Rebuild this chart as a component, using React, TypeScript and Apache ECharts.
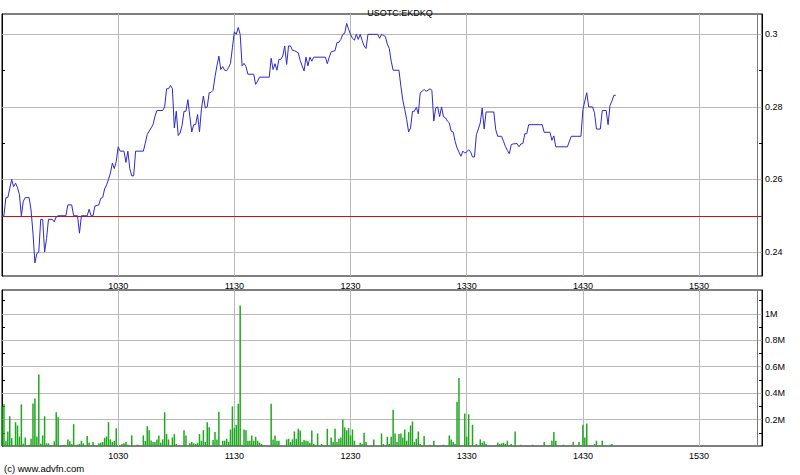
import React, { useEffect, useRef } from "react";
import * as echarts from "echarts";

// Price (minutes since midnight -> price)
const priceTimes: number[] = [
  570, 571, 572, 573, 575, 576, 577, 578, 579, 580, 581, 582, 584, 585, 586, 587, 588, 589, 590, 591,
  592, 593, 594, 596, 597, 598, 599, 603, 604, 606, 607, 609, 610, 611, 614, 615, 616, 617, 618, 620,
  621, 622, 623, 624, 625, 626, 627, 628, 629, 630, 631, 633, 634, 635, 636, 637, 638, 639, 643, 644,
  645, 647, 648, 649, 650, 653, 654, 655, 656, 657, 658, 659, 660, 661, 662, 663, 664, 665, 666, 667,
  668, 669, 670, 671, 672, 673, 674, 675, 676, 677, 678, 679, 680, 681, 682, 683, 684, 685, 686, 687,
  688, 689, 690, 691, 692, 693, 694, 695, 696, 697, 700, 701, 702, 703, 708, 709, 710, 711, 712, 713,
  714, 715, 716, 717, 718, 719, 720, 721, 723, 724, 725, 726, 727, 728, 729, 730, 731, 737, 738, 739,
  740, 742, 743, 744, 745, 746, 747, 748, 749, 750, 751, 752, 753, 754, 755, 756, 757, 758, 759, 764,
  765, 766, 767, 768, 769, 770, 771, 772, 775, 776, 777, 778, 779, 780, 781, 782, 783, 784, 785, 786,
  787, 788, 789, 790, 791, 792, 793, 794, 795, 796, 797, 798, 799, 800, 801, 802, 803, 804, 805, 807,
  808, 809, 810, 811, 812, 813, 814, 815, 816, 817, 818, 819, 820, 824, 825, 826, 828, 829, 830, 831,
  832, 833, 834, 836, 837, 838, 839, 840, 841, 842, 849, 850, 853, 854, 855, 856, 862, 864, 869, 870,
  872, 873, 875, 876, 877, 879, 880, 882, 883, 884, 885, 886, 887,
];
const prices: number[] = [
  0.25, 0.25, 0.255, 0.255, 0.26, 0.258, 0.259, 0.2578, 0.2558, 0.25, 0.254, 0.255, 0.255, 0.2516, 0.2452, 0.237, 0.2396, 0.24, 0.249, 0.249,
  0.24, 0.2437, 0.249, 0.249, 0.2483, 0.2497, 0.25, 0.25, 0.253, 0.253, 0.25, 0.25, 0.2452, 0.25, 0.25, 0.2518, 0.25, 0.25, 0.2527, 0.253,
  0.2548, 0.255, 0.2574, 0.2585, 0.26, 0.2618, 0.2645, 0.263, 0.265, 0.269, 0.2678, 0.2678, 0.2647, 0.2678, 0.263, 0.261, 0.261, 0.2678, 0.2678, 0.27,
  0.2724, 0.2742, 0.2751, 0.2774, 0.279, 0.279, 0.28, 0.285, 0.285, 0.2859, 0.285, 0.2742, 0.2788, 0.2721, 0.2728, 0.2749, 0.2788, 0.2788, 0.282, 0.2774,
  0.2731, 0.2751, 0.2751, 0.2779, 0.2731, 0.2795, 0.283, 0.2797, 0.28, 0.2839, 0.284, 0.2846, 0.2883, 0.2913, 0.294, 0.2903, 0.2911, 0.2901, 0.29, 0.2908,
  0.292, 0.2963, 0.3007, 0.3, 0.3019, 0.3, 0.2913, 0.292, 0.2911, 0.289, 0.289, 0.2862, 0.2871, 0.2882, 0.2882, 0.2934, 0.2903, 0.2919, 0.2901, 0.2931,
  0.2931, 0.294, 0.2968, 0.2917, 0.2968, 0.2968, 0.2956, 0.2955, 0.2949, 0.2928, 0.2913, 0.2899, 0.2937, 0.2913, 0.2937, 0.2926, 0.2937, 0.2937, 0.2919, 0.2937,
  0.2952, 0.2955, 0.2977, 0.2978, 0.2986, 0.3, 0.3003, 0.303, 0.3014, 0.3, 0.2989, 0.2984, 0.3, 0.2986, 0.3, 0.2983, 0.2968, 0.2961, 0.3, 0.3,
  0.2989, 0.3, 0.2997, 0.2994, 0.2973, 0.2961, 0.2926, 0.2901, 0.2901, 0.2857, 0.2818, 0.2793, 0.2765, 0.2731, 0.2742, 0.2788, 0.2788, 0.2799, 0.2781, 0.2839,
  0.2843, 0.2848, 0.2843, 0.2846, 0.285, 0.2846, 0.2761, 0.2797, 0.28, 0.2773, 0.28, 0.2773, 0.277, 0.2761, 0.2756, 0.2733, 0.2731, 0.2705, 0.2687, 0.2664,
  0.2678, 0.2673, 0.2676, 0.2682, 0.2676, 0.2662, 0.2662, 0.2724, 0.2739, 0.2756, 0.2797, 0.2739, 0.2786, 0.2786, 0.2737, 0.2719, 0.2719, 0.2705, 0.2691, 0.268,
  0.2671, 0.2696, 0.2698, 0.2699, 0.269, 0.2698, 0.2699, 0.2726, 0.2726, 0.2751, 0.2751, 0.273, 0.273, 0.2708, 0.272, 0.269, 0.269, 0.2719, 0.2719, 0.2793,
  0.2839, 0.28, 0.28, 0.2784, 0.2739, 0.2739, 0.279, 0.279, 0.2751, 0.2804, 0.2816, 0.2832, 0.2832,
];

// Volume (minutes since midnight -> shares)
const volTimes: number[] = [
  570, 571, 572, 573, 574, 575, 577, 578, 579, 580, 581, 582, 584, 585, 586, 587, 588, 589, 590, 591,
  592, 593, 594, 597, 598, 599, 602, 604, 605, 606, 607, 609, 610, 611, 612, 614, 615, 617, 620, 621,
  622, 623, 624, 625, 626, 627, 628, 629, 632, 633, 634, 635, 637, 640, 643, 644, 645, 646, 647, 648,
  649, 650, 651, 652, 653, 654, 655, 656, 658, 659, 660, 664, 665, 667, 668, 669, 670, 671, 672, 673,
  674, 675, 676, 677, 679, 680, 681, 682, 684, 685, 686, 687, 688, 689, 690, 691, 692, 693, 694, 695,
  696, 697, 698, 699, 700, 701, 702, 703, 704, 709, 710, 711, 712, 713, 717, 718, 719, 720, 721, 722,
  723, 724, 725, 726, 727, 728, 729, 730, 731, 733, 735, 738, 740, 741, 742, 743, 744, 745, 746, 747,
  748, 749, 750, 751, 752, 755, 756, 757, 758, 762, 766, 767, 769, 770, 771, 772, 773, 774, 775, 776,
  777, 778, 779, 780, 781, 782, 783, 784, 785, 786, 788, 791, 793, 798, 801, 802, 803, 804, 805, 806,
  809, 810, 811, 813, 815, 817, 818, 819, 820, 826, 827, 828, 829, 830, 831, 833, 835, 838, 844, 850,
  854, 855, 856, 860, 865, 868, 870, 871, 872, 876, 877, 880, 884, 885,
];
const volumes: number[] = [
  300000, 315000, 35000, 110000, 225000, 60000, 180000, 155000, 72000, 315000, 18000, 65000, 10000, 55000, 322000, 360000, 72000, 540000, 18000, 80000,
  225000, 20000, 20000, 35000, 255000, 218000, 10000, 50000, 35000, 15000, 165000, 10000, 15000, 40000, 20000, 75000, 25000, 30000, 20000, 25000,
  30000, 62000, 72000, 180000, 50000, 30000, 40000, 135000, 15000, 20000, 30000, 10000, 80000, 10000, 80000, 38000, 150000, 120000, 42000, 30000,
  30000, 50000, 80000, 25000, 50000, 255000, 90000, 50000, 65000, 90000, 15000, 120000, 80000, 20000, 30000, 20000, 15000, 25000, 90000, 40000,
  120000, 30000, 180000, 142000, 45000, 105000, 50000, 260000, 40000, 40000, 55000, 30000, 125000, 300000, 135000, 160000, 320000, 1062000, 10000, 125000,
  120000, 40000, 40000, 80000, 40000, 70000, 40000, 25000, 15000, 320000, 50000, 80000, 40000, 40000, 50000, 55000, 30000, 50000, 110000, 55000,
  130000, 118000, 30000, 45000, 40000, 35000, 25000, 118000, 15000, 95000, 15000, 130000, 65000, 30000, 130000, 30000, 55000, 65000, 200000, 140000,
  118000, 135000, 80000, 125000, 40000, 25000, 15000, 100000, 30000, 50000, 95000, 15000, 70000, 15000, 70000, 275000, 95000, 30000, 90000, 95000,
  65000, 125000, 40000, 105000, 155000, 185000, 30000, 55000, 110000, 15000, 75000, 10000, 40000, 10000, 80000, 50000, 30000, 15000, 335000, 515000,
  245000, 70000, 240000, 160000, 15000, 50000, 25000, 35000, 15000, 25000, 15000, 20000, 25000, 15000, 40000, 15000, 110000, 10000, 10000, 30000,
  40000, 105000, 40000, 10000, 30000, 30000, 160000, 65000, 170000, 15000, 40000, 40000, 10000, 15000,
];

const previousClose = 0.25;
const timeLabelValues: number[] = [630, 690, 750, 810, 870, 930];
const marketClose = 960;
const priceTickValues: number[] = [0.24, 0.25, 0.26, 0.27, 0.28, 0.29, 0.3];
const priceLabelValues: number[] = [0.24, 0.26, 0.28, 0.3];
const volTickValues: number[] = [100000, 200000, 300000, 400000, 500000, 600000, 700000, 800000, 900000, 1000000, 1100000];
const volLabelValues: number[] = [200000, 400000, 600000, 800000, 1000000];

const FONT = "'Liberation Sans', Arial, sans-serif";

const fmtTime = (v: number) => String(Math.floor(v / 60) * 100 + (Math.round(v) % 60));
const fmtPrice = (v: number) => String(parseFloat(Number(v).toFixed(2)));
const fmtVol = (v: number) => parseFloat((v / 1e6).toFixed(1)) + "M";

const GRID_COLOR = "#b9b9b9";

function buildOption() {
  const priceData = priceTimes.map((t, i) => [t, prices[i]]);
  const volData = volTimes.map((t, i) => [t, volumes[i]]);

  const ml = (data: any[], color: string) => ({
    silent: true,
    symbol: ["none", "none"],
    label: { show: false },
    emphasis: { disabled: true },
    animation: false,
    lineStyle: { color, width: 1, type: "solid" },
    data,
  });

  const xAxisBase = (gridIndex: number) => ({
    type: "value",
    gridIndex,
    min: 570,
    max: 962.5,
    splitLine: { show: false },
    axisLine: { show: false },
    axisTick: { show: false },
    axisLabel: {
      customValues: timeLabelValues,
      formatter: fmtTime,
      fontSize: 9,
      color: "#000",
      fontFamily: FONT,
      margin: 5,
    },
  });

  const yMin = 0.2334;
  const yMax = 0.3056;
  const vMax = 1180000;

  return {
    animation: false,
    backgroundColor: "#ffffff",
    title: {
      text: "USOTC:EKDKQ",
      left: "center",
      top: 3,
      textStyle: { fontSize: 9, fontWeight: "normal", color: "#000", fontFamily: FONT },
    },
    graphic: [
      {
        type: "text",
        left: 4,
        top: 463,
        style: { text: "(c) www.advfn.com", fontSize: 9.5, fill: "#000", fontFamily: FONT },
      },
    ],
    grid: [
      { left: 2, right: 38, top: 14, height: 262, show: true, borderColor: "#000", borderWidth: 1, backgroundColor: "#fff" },
      { left: 2, right: 38, top: 290, height: 156, show: true, borderColor: "#000", borderWidth: 1, backgroundColor: "#fff" },
    ],
    xAxis: [xAxisBase(0), xAxisBase(1)],
    yAxis: [
      {
        type: "value",
        gridIndex: 0,
        position: "right",
        min: yMin,
        max: yMax,
        splitLine: { show: false },
        axisLine: { show: true, lineStyle: { color: "#000", width: 1 } },
        axisTick: { show: true, customValues: priceTickValues, inside: true, length: 3, lineStyle: { color: "#000" } },
        axisLabel: { customValues: priceLabelValues, formatter: fmtPrice, fontSize: 9, color: "#000", fontFamily: FONT, margin: 3 },
      },
      {
        type: "value",
        gridIndex: 0,
        position: "left",
        min: yMin,
        max: yMax,
        splitLine: { show: false },
        axisLine: { show: true, lineStyle: { color: "#000", width: 1 } },
        axisTick: { show: true, customValues: priceTickValues, inside: true, length: 3, lineStyle: { color: "#000" } },
        axisLabel: { show: false },
      },
      {
        type: "value",
        gridIndex: 1,
        position: "right",
        min: 0,
        max: vMax,
        splitLine: { show: false },
        axisLine: { show: true, lineStyle: { color: "#000", width: 1 } },
        axisTick: { show: true, customValues: volTickValues, inside: true, length: 3, lineStyle: { color: "#000" } },
        axisLabel: { customValues: volLabelValues, formatter: fmtVol, fontSize: 9, color: "#000", fontFamily: FONT, margin: 3 },
      },
      {
        type: "value",
        gridIndex: 1,
        position: "left",
        min: 0,
        max: vMax,
        splitLine: { show: false },
        axisLine: { show: true, lineStyle: { color: "#000", width: 1 } },
        axisTick: { show: true, customValues: volTickValues, inside: true, length: 3, lineStyle: { color: "#000" } },
        axisLabel: { show: false },
      },
    ],
    series: [
      {
        type: "line",
        xAxisIndex: 0,
        yAxisIndex: 0,
        data: [],
        z: 1,
        markLine: ml(
          [
            ...priceLabelValues.map((v) => ({ yAxis: v })),
            ...timeLabelValues.map((v) => ({ xAxis: v })),
          ],
          GRID_COLOR
        ),
      },
      {
        type: "line",
        xAxisIndex: 0,
        yAxisIndex: 0,
        data: [],
        z: 2,
        markLine: ml([{ xAxis: marketClose }], "#7a7a7a"),
      },
      {
        type: "line",
        xAxisIndex: 0,
        yAxisIndex: 0,
        data: [],
        z: 3,
        markLine: ml([{ yAxis: previousClose }], "#d01010"),
      },
      {
        type: "line",
        xAxisIndex: 0,
        yAxisIndex: 0,
        data: priceData,
        z: 5,
        symbol: "none",
        showSymbol: false,
        lineStyle: { color: "#2a2ad2", width: 1 },
        itemStyle: { color: "#2a2ad2" },
      },
      {
        type: "line",
        xAxisIndex: 1,
        yAxisIndex: 2,
        data: [],
        z: 1,
        markLine: ml(
          [
            ...volLabelValues.map((v) => ({ yAxis: v })),
            ...timeLabelValues.map((v) => ({ xAxis: v })),
          ],
          GRID_COLOR
        ),
      },
      {
        type: "line",
        xAxisIndex: 1,
        yAxisIndex: 2,
        data: [],
        z: 2,
        markLine: ml([{ xAxis: marketClose }], "#7a7a7a"),
      },
      {
        type: "bar",
        xAxisIndex: 1,
        yAxisIndex: 2,
        data: volData,
        z: 5,
        barWidth: 1.5,
        itemStyle: { color: "#1fa81f" },
      },
    ],
  };
}

export default function App() {
  const ref = useRef<HTMLDivElement>(null);
  useEffect(() => {
    if (!ref.current) return;
    const chart = echarts.init(ref.current, undefined, { renderer: "svg" });
    chart.setOption(buildOption() as any);
    return () => chart.dispose();
  }, []);
  return (
    <div
      ref={ref}
      style={{ position: "fixed", left: 0, top: 0, width: 800, height: 475, background: "#fff" }}
    />
  );
}
